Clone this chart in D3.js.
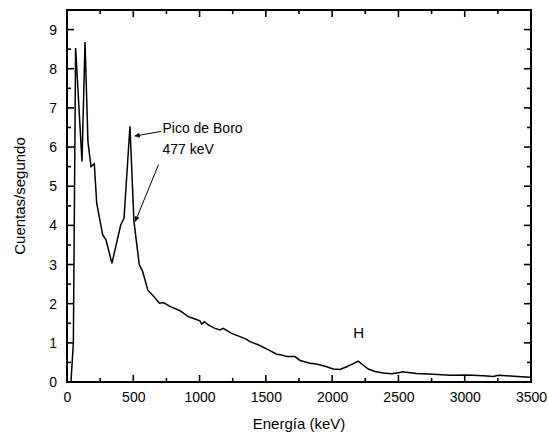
<!DOCTYPE html>
<html>
<head>
<meta charset="utf-8">
<script src="https://cdn.jsdelivr.net/npm/d3@7"></script>
<style>
  body { margin: 0; background: #fff; }
  text { font-family: "Liberation Sans", Arial, sans-serif; fill: #000; }
</style>
</head>
<body>
<div id="chart"></div>
<script>
// spectrum
var energy = [30, 48, 65, 113, 136, 158, 181, 206, 224, 269, 294, 339, 405, 430, 475, 505, 545, 571, 609, 656, 697, 727, 777, 852, 915, 965, 1003, 1016, 1036, 1066, 1116, 1154, 1179, 1242, 1305, 1355, 1380, 1443, 1519, 1582, 1619, 1657, 1720, 1758, 1833, 1883, 1959, 2009, 2059, 2110, 2160, 2197, 2223, 2273, 2323, 2386, 2449, 2512, 2525, 2638, 2764, 2889, 3015, 3141, 3216, 3254, 3367, 3493];
var counts = [0, 1.0, 8.53, 5.63, 8.68, 6.14, 5.5, 5.57, 4.57, 3.76, 3.63, 3.03, 4.01, 4.18, 6.53, 4.1, 3.0, 2.82, 2.35, 2.18, 2.01, 2.03, 1.93, 1.82, 1.67, 1.61, 1.56, 1.48, 1.54, 1.46, 1.37, 1.33, 1.37, 1.24, 1.16, 1.09, 1.03, 0.95, 0.82, 0.71, 0.69, 0.65, 0.65, 0.55, 0.48, 0.46, 0.39, 0.33, 0.32, 0.39, 0.47, 0.53, 0.46, 0.33, 0.27, 0.23, 0.21, 0.24, 0.26, 0.22, 0.20, 0.17, 0.18, 0.16, 0.14, 0.17, 0.15, 0.12];

var xTicks = [0, 500, 1000, 1500, 2000, 2500, 3000, 3500];
var yTicks = [0, 1, 2, 3, 4, 5, 6, 7, 8, 9];

var svgWidth = 548;
var svgHeight = 434;
var margin = { top: 10, right: 17, bottom: 52, left: 67 };
var width = svgWidth - margin.left - margin.right;
var height = svgHeight - margin.top - margin.bottom;

var svg = d3.select("#chart")
  .append("svg")
  .attr("width", svgWidth)
  .attr("height", svgHeight);

var chartGroup = svg.append("g")
  .attr("transform", `translate(${margin.left}, ${margin.top})`);

var xScale = d3.scaleLinear().domain([0, 3500]).range([0, width]);
var yScale = d3.scaleLinear().domain([0, 9.5]).range([height, 0]);

var xMinor = d3.range(250, 3500, 500);
var yMinor = d3.range(0.5, 9.5, 1);

// tick labels via d3 axes (tick lines drawn inward below)
var xAxis = chartGroup.append("g")
  .attr("transform", `translate(0, ${height})`)
  .call(d3.axisBottom(xScale).tickValues(xTicks).tickFormat(d3.format("d")).tickSize(0).tickPadding(10));
var yAxis = chartGroup.append("g")
  .call(d3.axisLeft(yScale).tickValues(yTicks).tickFormat(d3.format("d")).tickSize(0).tickPadding(10));

[xAxis, yAxis].forEach(function(g) {
  g.select(".domain").remove();
  g.selectAll("text").style("font-size", "14px").attr("fill", "#000");
});

// inward ticks on all four sides
var tickGroup = chartGroup.append("g");

function xTickLines(vals, len) {
  vals.forEach(function(v) {
    tickGroup.append("line")
      .attr("x1", xScale(v)).attr("x2", xScale(v))
      .attr("y1", height).attr("y2", height - len)
      .style("stroke", "#000").style("stroke-width", "1.6px");
    tickGroup.append("line")
      .attr("x1", xScale(v)).attr("x2", xScale(v))
      .attr("y1", 0).attr("y2", len)
      .style("stroke", "#000").style("stroke-width", "1.6px");
  });
}
function yTickLines(vals, len) {
  vals.forEach(function(v) {
    tickGroup.append("line")
      .attr("y1", yScale(v)).attr("y2", yScale(v))
      .attr("x1", 0).attr("x2", len)
      .style("stroke", "#000").style("stroke-width", "1.6px");
    tickGroup.append("line")
      .attr("y1", yScale(v)).attr("y2", yScale(v))
      .attr("x1", width).attr("x2", width - len)
      .style("stroke", "#000").style("stroke-width", "1.6px");
  });
}
xTickLines(xTicks, 7);
xTickLines(xMinor, 4);
yTickLines(yTicks, 7);
yTickLines(yMinor, 4);

// frame
chartGroup.append("rect")
  .attr("width", width)
  .attr("height", height)
  .attr("fill", "none")
  .attr("stroke", "#000")
  .attr("stroke-width", 2);

// spectrum line
var points = energy.map(function(e, i) { return [e, counts[i]]; });
var line = d3.line()
  .x(function(d) { return xScale(d[0]); })
  .y(function(d) { return yScale(d[1]); });

chartGroup.append("path")
  .datum(points)
  .attr("d", line)
  .attr("fill", "none")
  .attr("stroke", "#000")
  .attr("stroke-width", 1.5)
  .attr("stroke-linejoin", "miter");

// axis titles
svg.append("text")
  .attr("x", margin.left + width / 2)
  .attr("y", 429)
  .attr("text-anchor", "middle")
  .style("font-size", "15px")
  .text("Energía (keV)");

svg.append("text")
  .attr("transform", `translate(25, ${margin.top + height / 2}) rotate(-90)`)
  .attr("text-anchor", "middle")
  .style("font-size", "15px")
  .text("Cuentas/segundo");

// arrowhead
svg.append("defs").append("marker")
  .attr("id", "arrow")
  .attr("viewBox", "0 0 10 10")
  .attr("refX", 10)
  .attr("refY", 5)
  .attr("markerWidth", 7)
  .attr("markerHeight", 5)
  .attr("markerUnits", "userSpaceOnUse")
  .attr("orient", "auto")
  .append("path")
  .attr("d", "M0,0 L10,5 L0,10 Z")
  .attr("fill", "#000");

// annotations
chartGroup.append("text")
  .attr("x", xScale(720))
  .attr("y", yScale(6.35))
  .style("font-size", "14px")
  .text("Pico de Boro");
chartGroup.append("text")
  .attr("x", xScale(720))
  .attr("y", yScale(5.83))
  .style("font-size", "14px")
  .text("477 keV");

chartGroup.append("line")
  .attr("x1", xScale(710)).attr("y1", yScale(6.4))
  .attr("x2", xScale(510)).attr("y2", yScale(6.28))
  .attr("stroke", "#000").attr("stroke-width", 1)
  .attr("marker-end", "url(#arrow)");

chartGroup.append("line")
  .attr("x1", xScale(690)).attr("y1", yScale(5.55))
  .attr("x2", xScale(515)).attr("y2", yScale(4.1))
  .attr("stroke", "#000").attr("stroke-width", 1)
  .attr("marker-end", "url(#arrow)");

chartGroup.append("text")
  .attr("x", xScale(2200))
  .attr("y", yScale(1.12))
  .attr("text-anchor", "middle")
  .style("font-size", "15px")
  .text("H");
</script>
</body>
</html>
